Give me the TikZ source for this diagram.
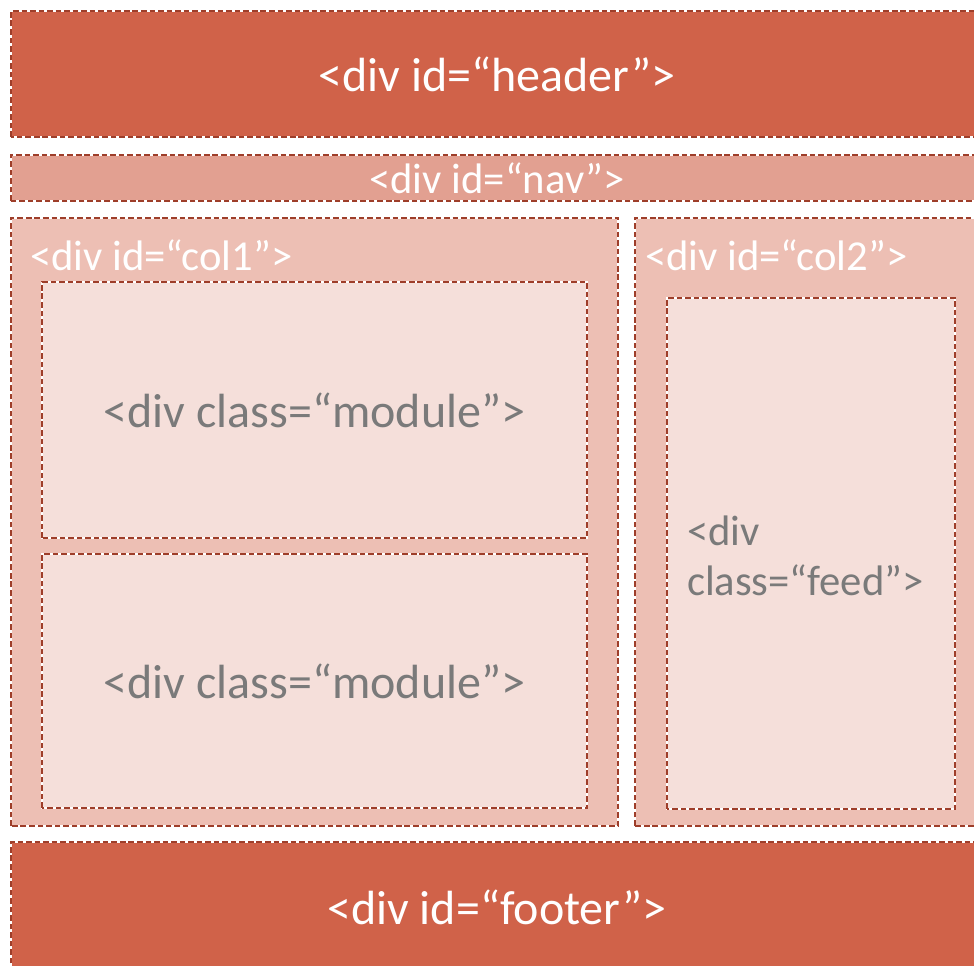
\documentclass[tikz,border=0pt]{standalone}
\usepackage{fontspec}
\setmainfont{Carlito}
\usetikzlibrary{positioning}

\definecolor{hdrred}{RGB}{208,98,73}
\definecolor{navred}{RGB}{226,160,145}
\definecolor{colred}{RGB}{237,191,180}
\definecolor{modred}{RGB}{245,223,218}
\definecolor{dashred}{RGB}{158,62,42}
\definecolor{txtgray}{RGB}{122,122,122}

\begin{document}
\begin{tikzpicture}[x=0.75pt, y=-0.75pt]
\tikzstyle{every node}=[inner sep=0pt, outer sep=0pt]
\tikzstyle{box}=[rectangle, fill=#1, draw=white, line width=2pt]
\tikzstyle{rim}=[draw=dashred, line width=2pt, dash pattern=on 4.2pt off 2.2pt]
\tikzstyle{big}=[font=\fontsize{36}{43}\selectfont]
\tikzstyle{small}=[font=\fontsize{32}{37.5}\selectfont]

\useasboundingbox (0,0) rectangle (974,965);
\clip (0,0) rectangle (974,965);

% outer blocks
\path (497,74) node[box=hdrred, big, text=white, minimum width=972*0.75pt,
    minimum height=126*0.75pt] (header) {<div id=“header”>};
\path (497,178) node[box=navred, small, text=white, minimum width=972*0.75pt,
    minimum height=46*0.75pt] (nav) {<div id=“nav”>};
\path (497,907) node[box=hdrred, big, text=white, minimum width=972*0.75pt,
    minimum height=130*0.75pt] (footer) {<div id=“footer”>};

% columns
\path (314.5,522) node[box=colred, minimum width=607*0.75pt,
    minimum height=608*0.75pt] (col1) {};
\path (812.5,522) node[box=colred, minimum width=355*0.75pt,
    minimum height=608*0.75pt] (col2) {};
\path (col1.north west) ++(19,37) node[small, text=white, anchor=west] (col1_lbl) {<div id=“col1”>};
\path (col2.north west) ++(10,37) node[small, text=white, anchor=west] (col2_lbl) {<div id=“col2”>};

% inner divs
\path (314.5,410) node[box=modred, big, text=txtgray, minimum width=545*0.75pt,
    minimum height=256*0.75pt] (mod1) {<div class=“module”>};
\path (314.5,681) node[box=modred, big, text=txtgray, minimum width=545*0.75pt,
    minimum height=254*0.75pt] (mod2) {<div class=“module”>};
\path (811,553.5) node[box=modred, minimum width=288*0.75pt,
    minimum height=511*0.75pt] (feed) {};
\path (feed.west) ++(20,2) node[small, text=txtgray, anchor=west, align=left] (feed_lbl) {<div\\class=“feed”>};

% dashed rims
\foreach \Box in {header,nav,footer,col1,col2,mod1,mod2,feed}{
    \draw[rim] (\Box.south west) rectangle (\Box.north east);
}
\end{tikzpicture}
\end{document}
